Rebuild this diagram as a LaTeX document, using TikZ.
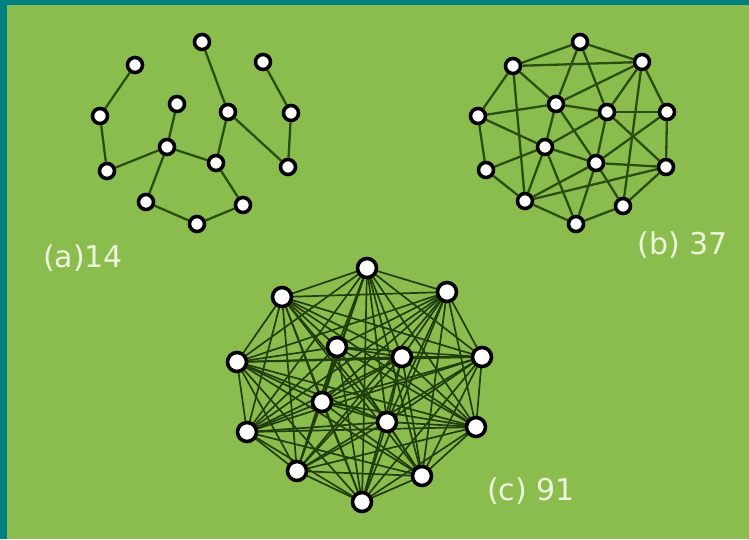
\documentclass[tikz,border=0pt]{standalone}
\usepackage{fontspec}
\setsansfont{DejaVu Sans}

\definecolor{framegreen}{RGB}{139,189,78}
\definecolor{frameteal}{RGB}{0,128,128}
\definecolor{edgegreen}{RGB}{42,78,16}
\definecolor{labelcream}{RGB}{238,245,220}

\pgfdeclarelayer{backdrop}
\pgfdeclarelayer{edges}
\pgfsetlayers{backdrop,edges,main}

\begin{document}
\begin{tikzpicture}[x=1pt, y=-1pt,
  vtx/.style={circle, draw=black, fill=white, line width=3.6pt, minimum size=15pt, inner sep=0pt},
  bigvtx/.style={vtx, minimum size=19pt},
  link/.style={edgegreen, line width=2.3pt},
  denselink/.style={edgegreen!80!black, line width=1.7pt},
  every node/.style={font=\sffamily}]

% Background and frame
\useasboundingbox (0,0) rectangle (749,539);
\begin{pgfonlayer}{backdrop}
  \fill[frameteal] (0,0) rectangle (749,539);
  \fill[framegreen] (7,5) rectangle (749,539);
\end{pgfonlayer}

% (a) sparse graph
\foreach \n/\x/\y in {1/202/42, 2/135/65, 3/263/62, 4/100/116, 5/177/104, 6/228/112, 7/291/113,
                      8/167/147, 9/107/171, 10/216/163, 11/288/167, 12/146/202, 13/243/205, 14/197/224}
  \node[vtx] (a\n) at (\x,\y) {};
\begin{pgfonlayer}{edges}
\foreach \u/\v in {2/4, 4/9, 9/8, 5/8, 8/12, 8/10, 12/14, 14/13, 13/10, 10/6, 6/1, 6/11, 3/7, 7/11}
  \draw[link] (a\u) -- (a\v);
\end{pgfonlayer}

% (b) medium graph
\foreach \n/\x/\y in {1/580/42, 2/513/66, 3/642/62, 4/556/104, 5/607/112, 6/478/116, 7/667/112,
                      8/545/147, 9/596/163, 10/486/170, 11/666/167, 12/525/201, 13/623/206, 14/576/224}
  \node[vtx] (b\n) at (\x,\y) {};
\begin{pgfonlayer}{edges}
\foreach \u/\v in {1/2, 1/3, 2/3, 1/4, 1/5, 2/6, 2/4, 2/12, 3/4, 3/5, 3/7, 3/13, 6/4, 6/10, 6/8,
                   4/5, 5/7, 4/9, 5/8, 5/9, 5/11, 7/11, 7/9, 8/10, 8/9, 8/12, 8/14, 9/11, 9/12,
                   9/14, 9/13, 10/12, 12/14, 14/13, 13/11, 12/11, 4/8}
  \draw[link] (b\u) -- (b\v);
\end{pgfonlayer}

% (c) complete graph
\foreach \n/\x/\y in {1/367/268, 2/282/297, 3/447/292, 4/337/347, 5/402/357, 6/237/362, 7/482/357,
                      8/322/402, 9/387/422, 10/247/432, 11/476/427, 12/297/471, 13/422/476, 14/362/502}
  \node[bigvtx] (c\n) at (\x,\y) {};
\begin{pgfonlayer}{edges}
\foreach \u in {1,...,13} {
  \pgfmathtruncatemacro\nxt{\u+1}
  \foreach \v in {\nxt,...,14}
    \draw[denselink] (c\u.center) -- (c\v.center);
}
\end{pgfonlayer}

% Labels
\node[labelcream, font=\sffamily\fontsize{30}{32}\selectfont] (alabel) at (83,258) {(a)14};
\node[labelcream, font=\sffamily\fontsize{30}{32}\selectfont] (blabel) at (683,245) {(b) 37};
\node[labelcream, font=\sffamily\fontsize{30}{32}\selectfont] (clabel) at (531,491) {(c) 91};

\end{tikzpicture}
\end{document}
